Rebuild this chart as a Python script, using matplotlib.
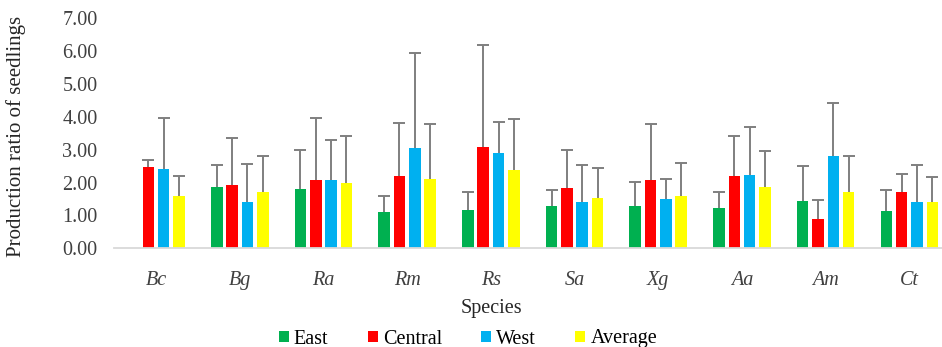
import matplotlib
matplotlib.use("Agg")
import matplotlib.pyplot as plt
from matplotlib.patches import Patch
import numpy as np

species = ["Bc", "Bg", "Ra", "Rm", "Rs", "Sa", "Xg", "Aa", "Am", "Ct"]
series = ["East", "Central", "West", "Average"]
east = [np.nan, 1.87, 1.80, 1.10, 1.17, 1.29, 1.29, 1.22, 1.45, 1.14]
central = [2.47, 1.92, 2.07, 2.19, 3.08, 1.84, 2.07, 2.19, 0.90, 1.71]
west = [2.42, 1.41, 2.07, 3.04, 2.89, 1.41, 1.49, 2.23, 2.81, 1.41]
average = [1.60, 1.71, 1.99, 2.10, 2.38, 1.52, 1.60, 1.88, 1.71, 1.41]
east_err = [np.nan, 0.66, 1.19, 0.49, 0.53, 0.49, 0.73, 0.48, 1.05, 0.62]
central_err = [0.21, 1.43, 1.90, 1.62, 3.12, 1.16, 1.70, 1.23, 0.57, 0.55]
west_err = [1.55, 1.17, 1.23, 2.91, 0.96, 1.13, 0.61, 1.46, 1.62, 1.13]
average_err = [0.61, 1.09, 1.43, 1.67, 1.55, 0.93, 1.00, 1.08, 1.09, 0.77]
yticks = [0, 1, 2, 3, 4, 5, 6, 7]

colors = ["#00B050", "#FF0000", "#00B0F0", "#FFFF00"]
values = [east, central, west, average]
errors = [east_err, central_err, west_err, average_err]

W, H = 942, 347
fig = plt.figure(figsize=(W / 100, H / 100), dpi=100)
plt.rcParams['font.family'] = ['Liberation Serif', 'DejaVu Serif']

ax_left, ax_right = 114.2, 951.2
ax_bottom, ax_top = 248.3, 18.3
ax = fig.add_axes([ax_left / W, 1 - ax_bottom / H, (ax_right - ax_left) / W, (ax_bottom - ax_top) / H])

x = np.arange(len(species))
pitch = 0.183
bw = 0.138
for i, (vals, errs, c) in enumerate(zip(values, errors, colors)):
    pos = x + (i - 1.5) * pitch
    v = np.array(vals, dtype=float)
    e = np.array(errs, dtype=float)
    ax.bar(pos, v, width=bw, color=c, edgecolor='none', zorder=2)
    ax.vlines(pos, v, v + e, colors='#7f7f7f', linewidth=1.4, zorder=3)
    ax.plot(pos, v + e, linestyle='none', marker='_', markersize=9,
            markeredgewidth=1.4, color='#7f7f7f', zorder=3)

ax.set_xlim(-0.5, 9.5)
ax.set_ylim(0, 7)
ax.set_yticks(yticks)
ax.set_yticklabels([f"{t:.2f}" for t in yticks], fontsize=14.5, color='#404040')
ax.set_xticks(x)
ax.set_xticklabels(species, fontsize=14.5, style='italic', color='#404040')
ax.tick_params(axis='both', length=0)
ax.tick_params(axis='y', pad=12)
ax.tick_params(axis='x', pad=16)
for s in ['top', 'right', 'left']:
    ax.spines[s].set_visible(False)
ax.spines['bottom'].set_color('#d9d9d9')
ax.spines['bottom'].set_linewidth(1.3)

fig.text(16 / W, 1 - 136 / H, "Production ratio of seedlings", rotation=90,
         ha='center', va='center', fontsize=15, color='#262626')
fig.text(491 / W, 1 - 309 / H, "Species", ha='center', va='center',
         fontsize=14.5, color='#262626')

handles = [Patch(facecolor=c, edgecolor='none') for c in colors]
fig.legend(handles, series, loc='center', bbox_to_anchor=(468 / W, 1 - 339 / H),
           ncol=4, frameon=False, fontsize=14.5, handlelength=0.5, handleheight=0.5,
           handletextpad=0.25, columnspacing=1.95, borderaxespad=0, borderpad=0)

fig.savefig("out.png", dpi=100)
